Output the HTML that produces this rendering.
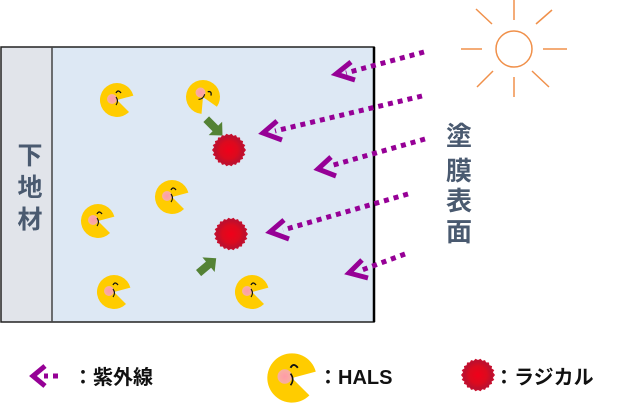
<!DOCTYPE html>
<html><head><meta charset="utf-8"><style>
html,body{margin:0;padding:0;background:#fff;}
svg{display:block;}
text{font-family:"Liberation Sans","Noto Sans CJK JP",sans-serif;}
</style></head><body>
<svg width="618" height="408" viewBox="0 0 618 408" xmlns="http://www.w3.org/2000/svg">
<defs>
<radialGradient id="rg" cx="50%" cy="50%" r="50%">
<stop offset="0" stop-color="#f0001a"/><stop offset="0.6" stop-color="#dc0a1e"/><stop offset="1" stop-color="#b81030"/>
</radialGradient>
<radialGradient id="ck" cx="50%" cy="50%" r="50%">
<stop offset="0" stop-color="#ff9aa8"/><stop offset="1" stop-color="#f7b0a0"/>
</radialGradient>
<g id="pac">
<path d="M0,0 L16.4,-4.4 A17,17 0 1,0 12.0,12.0 Z" fill="#ffcc00"/>
<circle cx="-5" cy="-1" r="5" fill="url(#ck)"/>
<path d="M-1,-7 Q1,-11 4,-7" stroke="#111" stroke-width="1.3" fill="none"/>
<path d="M-1,-3 Q2,1 -1,5" stroke="#111" stroke-width="1.1" fill="none"/>
</g>
<g id="rad">
<polygon points="17,0 14.9,2.8 16.3,4.9 13.6,6.5 14.1,8.9 11.3,9.9 11,12.5 8.1,12.6 7,14.9 4.3,14.3 2.5,16.3 0,15 -2.5,16.3 -4.3,14.3 -7,14.9 -8.1,12.6 -11,12.5 -11.3,9.9 -14.1,8.9 -13.6,6.5 -16.3,4.9 -14.9,2.8 -17,0 -14.9,-2.8 -16.3,-4.9 -13.6,-6.5 -14.1,-8.9 -11.3,-9.9 -11,-12.5 -8.1,-12.6 -7,-14.9 -4.3,-14.3 -2.5,-16.3 0,-15 2.5,-16.3 4.3,-14.3 7,-14.9 8.1,-12.6 11,-12.5 11.3,-9.9 14.1,-8.9 13.6,-6.5 16.3,-4.9 14.9,-2.8" fill="#c8102e"/>
<circle r="14.5" fill="url(#rg)"/>
</g>
</defs>
<!-- box -->
<rect x="52" y="47" width="322" height="275" fill="#dde8f4"/>
<rect x="1" y="47" width="51" height="275" fill="#e1e4ea"/>
<rect x="1" y="47" width="373" height="275" fill="none" stroke="#222" stroke-width="1.5"/>
<line x1="52" y1="47" x2="52" y2="322" stroke="#444" stroke-width="1.5"/>
<line x1="374" y1="47" x2="374" y2="322" stroke="#000" stroke-width="2.5"/>
<text x="30" y="164" font-size="25" font-weight="bold" fill="#4a5a70" text-anchor="middle">下</text>
<text x="30" y="196" font-size="25" font-weight="bold" fill="#4a5a70" text-anchor="middle">地</text>
<text x="30" y="228" font-size="25" font-weight="bold" fill="#4a5a70" text-anchor="middle">材</text>
<!-- right label -->
<text x="459" y="145" font-size="26" font-weight="bold" fill="#4a5a70" text-anchor="middle">塗</text>
<text x="459" y="180" font-size="26" font-weight="bold" fill="#4a5a70" text-anchor="middle">膜</text>
<text x="459" y="210" font-size="26" font-weight="bold" fill="#4a5a70" text-anchor="middle">表</text>
<text x="459" y="241" font-size="26" font-weight="bold" fill="#4a5a70" text-anchor="middle">面</text>
<!-- sun -->
<g stroke="#f0904a" stroke-width="1.5" fill="none">
<circle cx="514" cy="49" r="18"/>
<line x1="514" y1="0" x2="514" y2="20"/><line x1="514" y1="77" x2="514" y2="97"/>
<line x1="461" y1="49" x2="482" y2="49"/><line x1="543" y1="49" x2="567" y2="49"/>
<line x1="476" y1="9" x2="492" y2="24"/><line x1="536" y1="24" x2="552" y2="10"/>
<line x1="477" y1="87" x2="493" y2="71"/><line x1="532" y1="71" x2="549" y2="87"/>
</g>
<!-- UV arrows -->
<g stroke="#960096" stroke-width="5" fill="none">
<line x1="424" y1="52" x2="346" y2="73" stroke-dasharray="5,5"/>
<line x1="422" y1="96" x2="275" y2="131" stroke-dasharray="5,5"/>
<line x1="425" y1="139" x2="330" y2="166" stroke-dasharray="5,5"/>
<line x1="408" y1="194" x2="283" y2="230" stroke-dasharray="5,5"/>
<line x1="405" y1="254" x2="362" y2="270" stroke-dasharray="5,5"/>
<line x1="58" y1="376" x2="44" y2="376" stroke-dasharray="5,5"/>
</g>
<g stroke="#960096" stroke-width="5" fill="none" stroke-linejoin="miter">
<polyline points="351,62 336,74 355,80"/>
<polyline points="277,121 263,133 282,140"/>
<polyline points="331,157 318,169 336,176"/>
<polyline points="284,220 270,232 289,239"/>
<polyline points="362,260 349,273 368,278"/>
<polyline points="45,366 33,376 45,386"/>
</g>
<!-- pacmen -->
<use href="#pac" transform="translate(117,100)"/>
<use href="#pac" transform="translate(203,97) rotate(50)"/>
<use href="#pac" transform="translate(98,221)"/>
<use href="#pac" transform="translate(172,197)"/>
<use href="#pac" transform="translate(114,292)"/>
<use href="#pac" transform="translate(252,292)"/>
<!-- radicals -->
<use href="#rad" transform="translate(229,150)"/>
<use href="#rad" transform="translate(231,234)"/>
<!-- green arrows -->
<g fill="#548235">
<polygon points="-11,-4 2,-4 2,-9.5 12,0 2,9.5 2,4 -11,4" transform="translate(214,127) rotate(45)"/>
<polygon points="-11,-4 2,-4 2,-9.5 12,0 2,9.5 2,4 -11,4" transform="translate(207,266) rotate(-40)"/>
</g>
<!-- legend -->
<text x="73" y="384" font-size="20" font-weight="bold" fill="#111">：紫外線</text>
<use href="#pac" transform="translate(292,378) scale(1.45)"/>
<text x="318" y="384" font-size="20" font-weight="bold" fill="#111">：HALS</text>
<use href="#rad" transform="translate(478,375)"/>
<text x="494" y="384" font-size="20" font-weight="bold" fill="#111">：ラジカル</text>
</svg>
</body></html>
